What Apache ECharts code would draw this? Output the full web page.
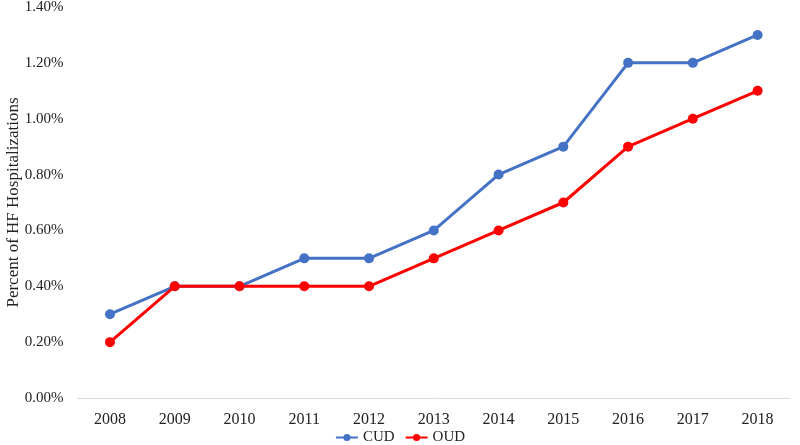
<!DOCTYPE html>
<html>
<head>
    <meta charset="utf-8">
    <title>HF Hospitalizations</title>
    <script src="https://cdn.jsdelivr.net/npm/echarts@6/dist/echarts.min.js"></script>
    <style type="text/css">
        body{
            margin: 0;
            background: #fff;
        }
    </style>
</head>
<body>
<div id="main" style="width: 800px;height:445px;"></div>
<script>
    var years = ["2008","2009","2010","2011","2012","2013","2014","2015","2016","2017","2018"];
    var cud = [0.3, 0.4, 0.4, 0.5, 0.5, 0.6, 0.8, 0.9, 1.2, 1.2, 1.3];
    var oud = [0.2, 0.4, 0.4, 0.4, 0.4, 0.5, 0.6, 0.7, 0.9, 1.0, 1.1];

    var font = "'Liberation Serif', 'Times New Roman', serif";
    var myChart = echarts.init(document.getElementById('main'));
    var option = {
        animation: false,
        textStyle: { fontFamily: font },
        grid: { left: 77.6, right: 10, top: 7, bottom: 47, outerBoundsMode: 'none' },
        legend: {
            top: 425,
            left: 'center',
            itemWidth: 22,
            itemHeight: 9,
            itemGap: 10,
            textStyle: { fontFamily: font, fontSize: 15, color: '#222' },
            data: ['CUD', 'OUD']
        },
        xAxis: {
            type: 'category',
            data: years,
            axisTick: { show: false },
            axisLine: { lineStyle: { color: '#d9d9d9' } },
            axisLabel: { fontFamily: font, fontSize: 16, color: '#222', margin: 14 }
        },
        yAxis: {
            type: 'value',
            min: 0,
            max: 1.4,
            interval: 0.2,
            name: 'Percent of HF Hospitalizations',
            nameLocation: 'middle',
            nameGap: 56,
            nameMoveOverlap: false,
            nameTextStyle: { fontFamily: font, fontSize: 17, color: '#222' },
            splitLine: { show: false },
            axisLine: { show: false },
            axisTick: { show: false },
            axisLabel: {
                fontFamily: font, fontSize: 15, color: '#222', margin: 14,
                formatter: function (v) { return v.toFixed(2) + '%'; }
            }
        },
        series: [{
            name: 'CUD',
            type: 'line',
            data: cud,
            symbol: 'circle',
            symbolSize: 10,
            itemStyle: { color: '#4472c4' },
            lineStyle: { width: 3, color: '#4472c4' }
        }, {
            name: 'OUD',
            type: 'line',
            data: oud,
            symbol: 'circle',
            symbolSize: 10,
            itemStyle: { color: '#ff0000' },
            lineStyle: { width: 3, color: '#ff0000' }
        }]
    };
    myChart.setOption(option);
</script>
</body>
</html>
